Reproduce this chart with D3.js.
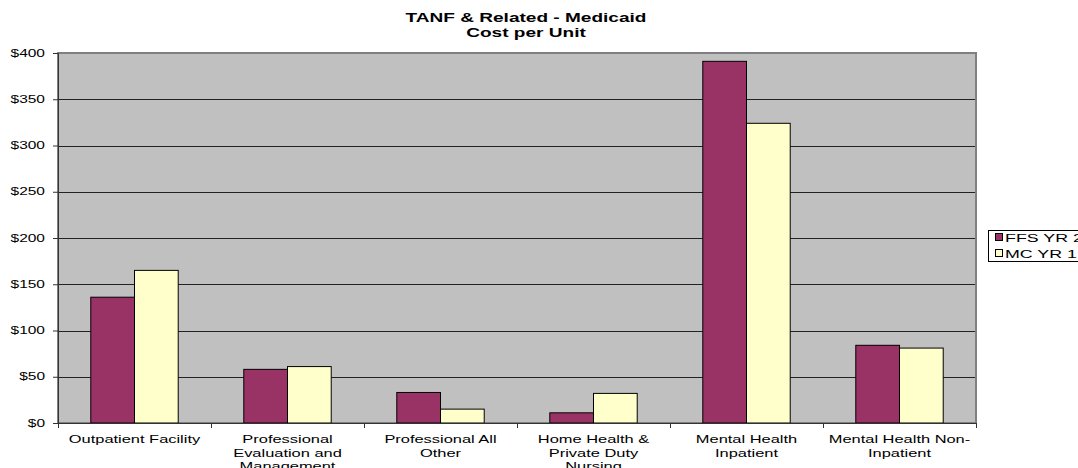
<!DOCTYPE html>
<html>
<head>
<meta charset="utf-8">
<script src="https://cdn.jsdelivr.net/npm/d3@7"></script>
<style>
  body { margin: 0; background: #fff; }
  text { font-family: "Liberation Sans", Arial, sans-serif; fill: #000; }
</style>
</head>
<body>
<div id="chart"></div>
<script>
// chart values
var categories = [
    ["Outpatient Facility"],
    ["Professional", "Evaluation and", "Management"],
    ["Professional All", "Other"],
    ["Home Health &", "Private Duty", "Nursing"],
    ["Mental Health", "Inpatient"],
    ["Mental Health Non-", "Inpatient"]
];
var seriesNames = ["FFS YR 2", "MC YR 1"];
var ffsValues = [136, 58, 33, 11, 391, 84];
var mcValues = [165, 61, 15, 32, 324, 81];
var yTicks = [0, 50, 100, 150, 200, 250, 300, 350, 400];
var titleLines = ["TANF & Related - Medicaid", "Cost per Unit"];

var colors = ["#993366", "#FFFFCC"];

function init(){
    var w = 1078, h = 468;
    var sx = 1.55; // text in the picture is stretched horizontally

    var svg = d3.select("#chart").append("svg")
        .attr("width", w)
        .attr("height", h);

    var left = 58, right = 976, top = 53, bottom = 423;

    //stretched text helper
    var stext = function(g, x, y, str, size, anchor, bold){
        return g.append("text")
            .attr("transform", "translate(" + x + "," + y + ") scale(" + sx + ",1)")
            .attr("text-anchor", anchor)
            .style("font-size", size + "px")
            .style("font-weight", bold ? "bold" : "normal")
            .text(str);
    };

    var idx = d3.range(categories.length);
    var xScale = d3.scaleBand()
        .domain(idx)
        .range([left, right])
        .paddingInner(0)
        .paddingOuter(0);
    var xSub = d3.scaleBand()
        .domain(seriesNames)
        .range([0, xScale.bandwidth()])
        .paddingInner(0)
        .paddingOuter(0.75);
    var yScale = d3.scaleLinear()
        .domain([0, 400])
        .range([bottom, top]);

    // plot background
    svg.append("rect")
        .attr("x", left).attr("y", top)
        .attr("width", right - left).attr("height", bottom - top)
        .attr("fill", "#C0C0C0");

    // gridlines
    svg.selectAll(".grid")
        .data(yTicks.slice(1))
        .enter().append("line")
        .attr("class", "grid")
        .attr("x1", left).attr("x2", right)
        .attr("y1", d => Math.round(yScale(d)) + 0.5)
        .attr("y2", d => Math.round(yScale(d)) + 0.5)
        .attr("stroke", "#222")
        .attr("stroke-width", 1);

    // plot border
    svg.append("rect")
        .attr("x", left).attr("y", top)
        .attr("width", right - left).attr("height", bottom - top)
        .attr("fill", "none")
        .attr("stroke", "#808080")
        .attr("stroke-width", 2);

    // bars
    var series = [ffsValues, mcValues];
    series.forEach(function(vals, s){
        svg.selectAll(".bar" + s)
            .data(vals)
            .enter().append("rect")
            .attr("class", "bar" + s)
            .attr("x", (d, i) => xScale(i) + xSub(seriesNames[s]))
            .attr("y", d => yScale(d))
            .attr("width", xSub.bandwidth())
            .attr("height", d => bottom - yScale(d))
            .attr("fill", colors[s])
            .attr("stroke", "#000")
            .attr("stroke-width", 1);
    });

    // y axis
    var yAxis = svg.append("g")
        .attr("transform", "translate(" + left + ",0)")
        .call(d3.axisLeft(yScale).tickValues(yTicks).tickSize(5).tickFormat(""));
    yAxis.select(".domain").attr("stroke", "#333");
    yAxis.selectAll(".tick line").attr("stroke", "#333");
    yTicks.forEach(function(t){
        stext(svg, 45, yScale(t) + 3.5, "$" + t, 10, "end", false);
    });

    // x axis line and ticks at category boundaries
    svg.append("line")
        .attr("x1", left).attr("x2", right)
        .attr("y1", bottom + 0.5).attr("y2", bottom + 0.5)
        .attr("stroke", "#333");
    var bounds = idx.map(i => xScale(i)).concat([right]);
    svg.selectAll(".xtick")
        .data(bounds)
        .enter().append("line")
        .attr("class", "xtick")
        .attr("x1", d => Math.round(d) + 0.5).attr("x2", d => Math.round(d) + 0.5)
        .attr("y1", bottom).attr("y2", bottom + 5)
        .attr("stroke", "#333");

    // category labels
    categories.forEach(function(lines, i){
        var cx = xScale(i) + xScale.bandwidth() / 2;
        lines.forEach(function(line, j){
            stext(svg, cx, 443 + j * 13.5, line, 10.6, "middle", false);
        });
    });

    // title
    titleLines.forEach(function(line, j){
        stext(svg, 526, 22 + j * 15, line, 12.3, "middle", true);
    });

    // legend (clipped by the window edge)
    var lg = svg.append("g");
    lg.append("rect")
        .attr("x", 988.5).attr("y", 230.5)
        .attr("width", 110).attr("height", 31)
        .attr("fill", "#fff")
        .attr("stroke", "#000");
    seriesNames.forEach(function(name, s){
        lg.append("rect")
            .attr("x", 995.5).attr("y", 233.5 + s * 16)
            .attr("width", 7).attr("height", 7)
            .attr("fill", colors[s])
            .attr("stroke", "#000");
        stext(lg, 1005, 242 + s * 16, name, 11.5, "start", false);
    });
}
window.onload = init;
</script>
</body>
</html>
